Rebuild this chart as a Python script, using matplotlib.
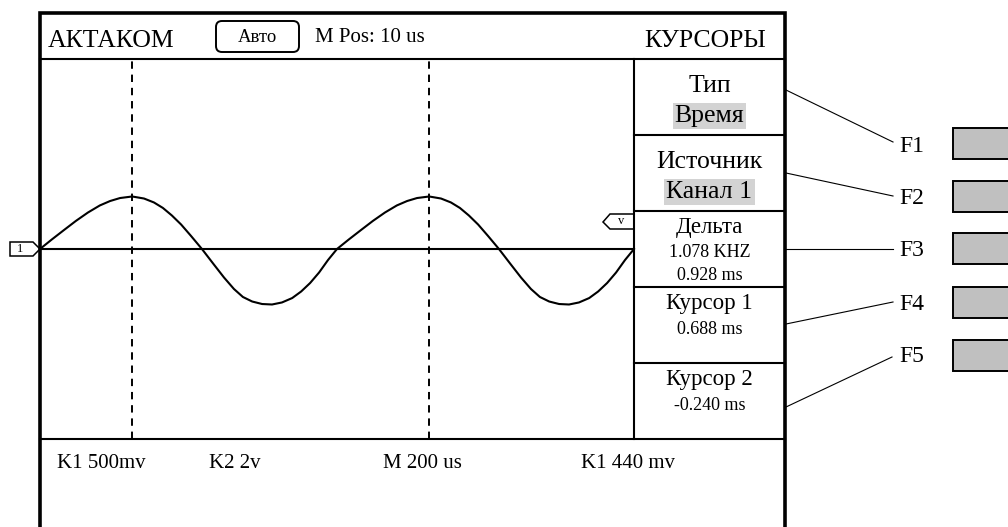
'''
Oscilloscope screen sketch: cursor menu (АКТАКОМ).
'''

import matplotlib
matplotlib.use("Agg")
import matplotlib.pyplot as plt
from matplotlib.patches import Polygon, FancyBboxPatch, Rectangle

plt.rcParams["font.family"] = ["Liberation Serif", "DejaVu Serif"]

# channel 1 trace, time in ms, level in mV
TIME_MS = [-0.528, -0.491, -0.453, -0.416, -0.378, -0.341, -0.309, -0.278,
           -0.240, -0.203, -0.172, -0.144, -0.116, -0.087, -0.056, -0.022,
           0.013, 0.047, 0.078, 0.106, 0.135, 0.166, 0.197, 0.228,
           0.260, 0.288, 0.316, 0.344, 0.372, 0.400,
           0.437, 0.475, 0.512, 0.550, 0.587, 0.619, 0.650,
           0.688, 0.725, 0.756, 0.784, 0.812, 0.841, 0.872, 0.906,
           0.941, 0.975, 1.006, 1.034, 1.063, 1.094, 1.125, 1.156,
           1.188, 1.216, 1.244, 1.272, 1.300, 1.328]
CH1_MV = [0, 80, 159, 235, 306, 365, 402, 427,
          440, 423, 390, 344, 281, 205, 109, 0,
          -122, -239, -335, -402, -440, -461, -465, -448,
          -411, -356, -285, -197, -92, 0,
          80, 159, 235, 306, 365, 402, 427,
          440, 423, 390, 344, 281, 205, 109, 0,
          -122, -239, -335, -402, -440, -461, -465, -448,
          -411, -356, -285, -197, -92, 0]

# cursor positions (ms)
CURSORS_MS = [-0.240, 0.688]
SCREEN_MV = 1592

# menu texts
HEADER_LEFT = "АКТАКОМ"
MODE = "Авто"
M_POS = "M Pos: 10 us"
MENU_TITLE = "КУРСОРЫ"
MENU_ROWS = [
    ("Тип", "Время", True),
    ("Источник", "Канал 1", True),
    ("Дельта", "1.078 KHZ\n0.928 ms", False),
    ("Курсор 1", "0.688 ms", False),
    ("Курсор 2", "-0.240 ms", False),
]
STATUS = ["K1 500mv", "K2 2v", "M 200 us", "K1 440 mv"]
F_KEYS = ["F1", "F2", "F3", "F4", "F5"]


def main():
    W, H = 1008, 527
    fig = plt.figure(figsize=(W / 100, H / 100), dpi=100)

    # pixel-space layer for frame, menu and labels
    bg = fig.add_axes([0, 0, 1, 1])
    bg.set_xlim(0, W)
    bg.set_ylim(H, 0)
    bg.axis("off")

    # outer frame (no bottom edge)
    bg.plot([40, 40, 785, 785], [H, 13, 13, H], color="black", lw=2.6,
            solid_joinstyle="miter")
    bg.plot([40, 785], [59, 59], color="black", lw=1.5)
    bg.plot([40, 785], [439, 439], color="black", lw=1.5)
    bg.plot([634, 634], [59, 439], color="black", lw=1.5)

    # header
    bg.text(48, 41, HEADER_LEFT, fontsize=18.5, va="center", ha="left")
    bg.add_patch(FancyBboxPatch((216, 21), 83, 31,
                                boxstyle="round,pad=0,rounding_size=6",
                                fc="white", ec="black", lw=1.4))
    bg.text(257.5, 38, MODE, fontsize=13.5, va="center", ha="center")
    bg.text(315, 37, M_POS, fontsize=15, va="center", ha="left")
    bg.text(766, 41, MENU_TITLE, fontsize=18.5, va="center", ha="right")

    # menu rows
    row_tops = [59, 135, 211, 287, 363]
    for i, (title, value, highlight) in enumerate(MENU_ROWS):
        top = row_tops[i]
        if i > 0:
            bg.plot([634, 785], [top, top], color="black", lw=1.5)
        if highlight:
            bg.text(709.5, top + 27, title, fontsize=18.5, va="center", ha="center")
            bg.text(709.5, top + 57, value, fontsize=18.5, va="center", ha="center",
                    bbox=dict(boxstyle="square,pad=0.08", fc="#d3d3d3", ec="none"))
        elif i == 2:
            bg.text(709.5, top + 17, title, fontsize=16.5, va="center", ha="center")
            bg.text(709.5, top + 53, value, fontsize=13, va="center", ha="center",
                    linespacing=1.45)
        else:
            bg.text(709.5, top + 17, title, fontsize=16.5, va="center", ha="center")
            bg.text(709.5, top + 42, value, fontsize=13, va="center", ha="center")

    # status line
    status_x = [57, 209, 383, 581]
    for x, label in zip(status_x, STATUS):
        bg.text(x, 463, label, fontsize=15, va="center", ha="left")

    # soft keys with leader lines
    leaders = [((786, 90), (893, 142)), ((786, 173), (893, 196)),
               ((786, 249), (893, 249)), ((786, 324), (893, 302)),
               ((786, 407), (892, 357))]
    key_y = [147, 198, 251, 304, 356]
    btn_top = [128, 181, 233, 287, 340]
    for label, (p0, p1), ky, bt in zip(F_KEYS, leaders, key_y, btn_top):
        bg.plot([p0[0], p1[0]], [p0[1], p1[1]], color="black", lw=0.8)
        bg.text(899, ky, label, fontsize=17, va="center", ha="left")
        bg.add_patch(Rectangle((953, bt), 80, 31, fc="#c0c0c0", ec="black", lw=1.4))

    # channel and cursor markers
    bg.add_patch(Polygon([[10, 242], [33, 242], [40, 249], [33, 256], [10, 256]],
                         closed=True, fc="white", ec="black", lw=1.1))
    bg.text(20, 249.5, "1", fontsize=9, va="center", ha="center")
    bg.add_patch(Polygon([[603, 222], [610, 214], [634, 214], [634, 229], [610, 229]],
                         closed=True, fc="white", ec="black", lw=1.1))
    bg.text(621, 221, "v", fontsize=9, va="center", ha="center")

    # waveform screen
    scr = fig.add_axes([40 / W, (H - 439) / H, 594 / W, 380 / H])
    scr.set_xlim(TIME_MS[0], TIME_MS[-1])
    scr.set_ylim(-SCREEN_MV, SCREEN_MV)
    scr.axis("off")
    scr.axhline(0, color="black", lw=1.5)
    for c in CURSORS_MS:
        scr.axvline(c, color="black", lw=1.4, linestyle=(0, (3.8, 3.0)))
    scr.plot(TIME_MS, CH1_MV, color="black", lw=1.5, clip_on=False,
             solid_joinstyle="round")

    fig.savefig("out.png", dpi=100)


if __name__ == "__main__":
    main()
